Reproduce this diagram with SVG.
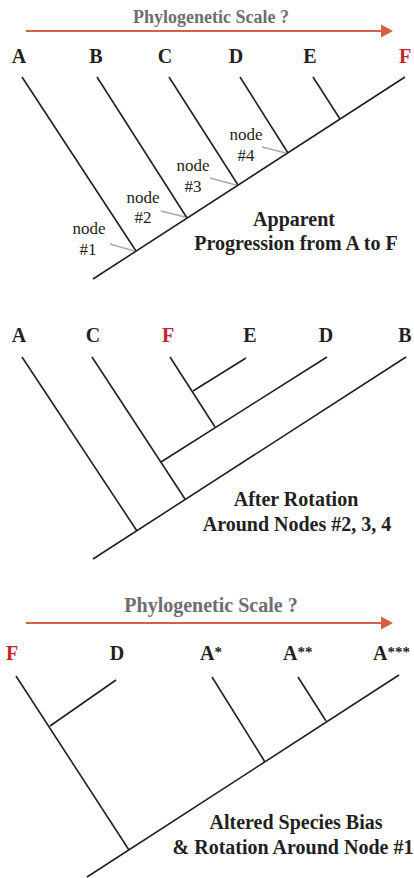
<svg xmlns="http://www.w3.org/2000/svg" width="414" height="878" viewBox="0 0 414 878">
<style>
.bg{fill:#ffffff}
.br{stroke:#231f20;stroke-width:1.6;fill:none;stroke-linecap:butt}
.ld{stroke:#a7a9ac;stroke-width:1.5;fill:none}
.ar{stroke:#d75f46;stroke-width:2.2;fill:none}
.ah{fill:#d75f46}
.ttl{font-family:"Liberation Serif","Times New Roman",serif;font-weight:bold;fill:#6d6e71;text-anchor:middle}
.lab{font-family:"Liberation Serif","Times New Roman",serif;font-weight:bold;font-size:20px;fill:#231f20;text-anchor:middle}
.st{text-anchor:start}
.ast{font-size:15px}
.red{fill:#c1272d}
.nd{font-family:"Liberation Serif","Times New Roman",serif;font-size:17px;fill:#231f20;text-anchor:middle}
.cap{font-family:"Liberation Serif","Times New Roman",serif;font-weight:bold;font-size:20px;fill:#231f20;text-anchor:middle}
</style>
<rect class="bg" x="0" y="0" width="414" height="878"/>

<!-- Tree 1 -->
<g id="scale1">
<text class="ttl" x="211" y="23" font-size="18">Phylogenetic Scale ?</text>
<line class="ar" x1="26" y1="31" x2="383" y2="31"/>
<polygon class="ah" points="381,24.5 393,31 381,37.5"/>
</g>
<g id="t1-labels">
<text class="lab" x="19" y="63">A</text>
<text class="lab" x="96" y="63">B</text>
<text class="lab" x="165" y="63">C</text>
<text class="lab" x="236" y="63">D</text>
<text class="lab" x="310" y="63">E</text>
<text class="lab red" x="405" y="63">F</text>
</g>
<g id="t1-connectors">
<line class="br" x1="93" y1="279" x2="405" y2="77"/>
<line class="br" x1="22" y1="77" x2="136" y2="251"/>
<line class="br" x1="97" y1="77" x2="187" y2="218"/>
<line class="br" x1="169" y1="77" x2="238" y2="185"/>
<line class="br" x1="240" y1="77" x2="288" y2="153"/>
<line class="br" x1="313" y1="77" x2="340" y2="119"/>
<line class="ld" x1="110" y1="244" x2="134" y2="251"/>
<line class="ld" x1="161" y1="211" x2="185" y2="217"/>
<line class="ld" x1="210" y1="178" x2="236" y2="185"/>
<line class="ld" x1="262" y1="147" x2="286" y2="153"/>
</g>
<g id="node1"><text class="nd" x="89" y="234">node</text><text class="nd" x="88" y="255">#1</text></g>
<g id="node2"><text class="nd" x="143" y="203">node</text><text class="nd" x="143" y="223">#2</text></g>
<g id="node3"><text class="nd" x="193" y="171">node</text><text class="nd" x="193" y="192">#3</text></g>
<g id="node4"><text class="nd" x="246" y="140">node</text><text class="nd" x="246" y="161">#4</text></g>
<g id="caption1">
<text class="cap" x="294" y="226">Apparent</text>
<text class="cap" x="296" y="250">Progression from A to F</text>
</g>

<!-- Tree 2 -->
<g id="t2-labels">
<text class="lab" x="19" y="342">A</text>
<text class="lab" x="93" y="342">C</text>
<text class="lab red" x="168" y="342">F</text>
<text class="lab" x="250" y="342">E</text>
<text class="lab" x="326" y="342">D</text>
<text class="lab" x="405" y="342">B</text>
</g>
<g id="t2-connectors">
<line class="br" x1="93" y1="559" x2="406" y2="357"/>
<line class="br" x1="22" y1="357" x2="137" y2="531"/>
<line class="br" x1="92" y1="357" x2="185" y2="499"/>
<line class="br" x1="327" y1="357" x2="161" y2="462"/>
<line class="br" x1="170" y1="357" x2="215" y2="427"/>
<line class="br" x1="246" y1="358" x2="193" y2="391"/>
</g>
<g id="caption2">
<text class="cap" x="296" y="506">After Rotation</text>
<text class="cap" x="297" y="531">Around Nodes #2, 3, 4</text>
</g>

<!-- Tree 3 -->
<g id="scale2">
<text class="ttl" x="211" y="612" font-size="20">Phylogenetic Scale ?</text>
<line class="ar" x1="26" y1="623" x2="383" y2="623"/>
<polygon class="ah" points="381,616.5 393,623 381,629.5"/>
</g>
<g id="t3-labels">
<text class="lab red" x="12" y="660">F</text>
<text class="lab" x="117" y="660">D</text>
<text class="lab st" x="200" y="660">A<tspan class="ast" dy="-3">*</tspan></text>
<text class="lab st" x="283" y="660">A<tspan class="ast" dy="-3">**</tspan></text>
<text class="lab st" x="373" y="660">A<tspan class="ast" dy="-3">***</tspan></text>
</g>
<g id="t3-connectors">
<line class="br" x1="87" y1="877" x2="399" y2="675"/>
<line class="br" x1="16" y1="676" x2="129" y2="850"/>
<line class="br" x1="116" y1="680" x2="50" y2="726"/>
<line class="br" x1="212" y1="677" x2="265" y2="762"/>
<line class="br" x1="298" y1="677" x2="326" y2="721"/>
</g>
<g id="caption3">
<text class="cap" x="296" y="829">Altered Species Bias</text>
<text class="cap" x="293" y="854">&amp; Rotation Around Node #1</text>
</g>
</svg>
